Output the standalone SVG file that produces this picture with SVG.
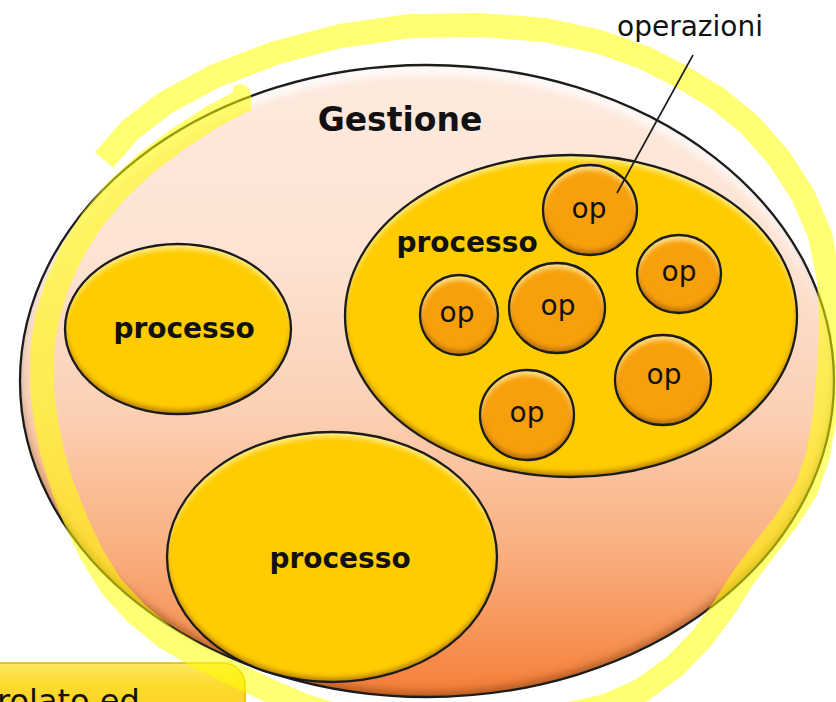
<svg xmlns="http://www.w3.org/2000/svg" width="836" height="702" viewBox="0 0 836 702">
  <defs>
    <style>
      .lbl-b { font-family: "DejaVu Sans", Verdana, sans-serif; font-weight: bold; fill: #111; text-anchor: middle; }
      .lbl { font-family: "DejaVu Sans", Verdana, sans-serif; fill: #111; text-anchor: middle; }
      .outline { fill: none; stroke: #1c1c1c; stroke-width: 2.3; }
      .proc { fill: #ffcc00; }
      .op { fill: #f8a00c; }
    </style>
    <linearGradient id="gBig" x1="0" y1="0" x2="0" y2="1">
      <stop offset="0" stop-color="#fdeade"/>
      <stop offset="0.3" stop-color="#fde3d3"/>
      <stop offset="0.55" stop-color="#fcd0b4"/>
      <stop offset="0.78" stop-color="#f9ad7c"/>
      <stop offset="1" stop-color="#f57e38"/>
    </linearGradient>
    <linearGradient id="gBox" x1="0" y1="0" x2="0" y2="1">
      <stop offset="0" stop-color="#fee862"/>
      <stop offset="0.3" stop-color="#fddb30"/>
      <stop offset="1" stop-color="#fbcc10"/>
    </linearGradient>
    <filter id="bevel" x="-5%" y="-5%" width="110%" height="110%" color-interpolation-filters="sRGB">
      <feGaussianBlur in="SourceAlpha" stdDeviation="2.5" result="blur"/>
      <feOffset in="blur" dy="5" result="down"/>
      <feComposite in="SourceAlpha" in2="down" operator="out" result="topRim"/>
      <feFlood flood-color="#fff6b0" flood-opacity="0.75"/>
      <feComposite in2="topRim" operator="in" result="hi"/>
      <feOffset in="blur" dy="-4" result="up"/>
      <feComposite in="SourceAlpha" in2="up" operator="out" result="botRim"/>
      <feFlood flood-color="#7a4200" flood-opacity="0.55"/>
      <feComposite in2="botRim" operator="in" result="sh"/>
      <feMerge><feMergeNode in="SourceGraphic"/><feMergeNode in="hi"/><feMergeNode in="sh"/></feMerge>
    </filter>
    <filter id="bevelBig" x="-5%" y="-5%" width="110%" height="110%" color-interpolation-filters="sRGB">
      <feGaussianBlur in="SourceAlpha" stdDeviation="4" result="blur"/>
      <feOffset in="blur" dy="9" result="down"/>
      <feComposite in="SourceAlpha" in2="down" operator="out" result="topRim"/>
      <feFlood flood-color="#ffffff" flood-opacity="0.9"/>
      <feComposite in2="topRim" operator="in" result="hi"/>
      <feOffset in="blur" dy="-5" result="up"/>
      <feComposite in="SourceAlpha" in2="up" operator="out" result="botRim"/>
      <feFlood flood-color="#6a3000" flood-opacity="0.5"/>
      <feComposite in2="botRim" operator="in" result="sh"/>
      <feMerge><feMergeNode in="SourceGraphic"/><feMergeNode in="hi"/><feMergeNode in="sh"/></feMerge>
    </filter>
  </defs>

  <rect width="836" height="702" fill="#ffffff"/>

  <g id="gestione">
    <ellipse cx="427" cy="381" rx="407" ry="316" fill="url(#gBig)" filter="url(#bevelBig)"/>
    <ellipse cx="427" cy="381" rx="407" ry="316" class="outline" stroke-width="2.6"/>
    <text x="400" y="131" class="lbl-b" font-size="33">Gestione</text>
  </g>

  <g id="processo-left">
    <ellipse cx="178" cy="329" rx="113" ry="85" class="proc" filter="url(#bevel)"/>
    <ellipse cx="178" cy="329" rx="113" ry="85" class="outline"/>
    <text x="184" y="338" class="lbl-b" font-size="28">processo</text>
  </g>

  <g id="processo-right">
    <ellipse cx="571" cy="316" rx="226" ry="161" class="proc" filter="url(#bevel)"/>
    <ellipse cx="571" cy="316" rx="226" ry="161" class="outline"/>
    <text x="467" y="252" class="lbl-b" font-size="28">processo</text>
  </g>

  <g id="processo-bottom">
    <ellipse cx="332" cy="557" rx="165" ry="125" class="proc" filter="url(#bevel)"/>
    <ellipse cx="332" cy="557" rx="165" ry="125" class="outline"/>
    <text x="340" y="568" class="lbl-b" font-size="28">processo</text>
  </g>

  <g id="op-1">
    <ellipse cx="590" cy="210" rx="47" ry="45" class="op" filter="url(#bevel)"/>
    <ellipse cx="590" cy="210" rx="47" ry="45" class="outline"/>
    <text x="589" y="218" class="lbl" font-size="28">op</text>
  </g>
  <g id="op-2">
    <ellipse cx="679" cy="274" rx="42" ry="39" class="op" filter="url(#bevel)"/>
    <ellipse cx="679" cy="274" rx="42" ry="39" class="outline"/>
    <text x="679" y="281" class="lbl" font-size="28">op</text>
  </g>
  <g id="op-3">
    <ellipse cx="459" cy="315" rx="39" ry="40" class="op" filter="url(#bevel)"/>
    <ellipse cx="459" cy="315" rx="39" ry="40" class="outline"/>
    <text x="457" y="322" class="lbl" font-size="28">op</text>
  </g>
  <g id="op-4">
    <ellipse cx="557" cy="308" rx="48" ry="45" class="op" filter="url(#bevel)"/>
    <ellipse cx="557" cy="308" rx="48" ry="45" class="outline"/>
    <text x="558" y="315" class="lbl" font-size="28">op</text>
  </g>
  <g id="op-5">
    <ellipse cx="663" cy="380" rx="48" ry="45" class="op" filter="url(#bevel)"/>
    <ellipse cx="663" cy="380" rx="48" ry="45" class="outline"/>
    <text x="664" y="384" class="lbl" font-size="28">op</text>
  </g>
  <g id="op-6">
    <ellipse cx="527" cy="415" rx="47" ry="45" class="op" filter="url(#bevel)"/>
    <ellipse cx="527" cy="415" rx="47" ry="45" class="outline"/>
    <text x="527" y="422" class="lbl" font-size="28">op</text>
  </g>

  <g id="note-box">
    <rect x="-20" y="663" width="265" height="70" rx="22" fill="url(#gBox)" stroke="#e0b800" stroke-width="1.5"/>
    <text x="-3" y="712" font-family="DejaVu Sans, Verdana, sans-serif" font-size="32" fill="#111">rolato ed</text>
  </g>

  <g id="highlight" opacity="0.55">
    <path d="M244,100 L212,117 L178,139 L146,163 L117,190 L92,220 L72,252 L57,285 L47,318 L42,352 L42,387 L46,422 L53,456 L63,488 L76,521 L92,555 L112,587 L137,614 L165,637 L197,656 L232,673 L268,690 L305,706 L345,718 L420,724 L500,722 L560,716 L606,706 L642,690 L675,666 L702,638 L724,608 L743,578 L764,550 L787,520 L806,490 L818,455 L825,415 L829,370 L831,325 L829,280 L820,235 L803,195 L779,158 L750,125 L717,98 L682,77 L645,58 L600,42 L545,30 L480,25 L410,26 L340,36 L275,53 L215,76 L165,103 L130,130 L104,160" fill="none" stroke="#ffff00" stroke-width="24" stroke-linejoin="round" stroke-linecap="butt"/>
    <path d="M233,86 L240,84 Q251,86 251,96 L251,112 L233,112 Z" fill="#ffff00"/>
  </g>

  <g id="connectors">
    <line x1="693" y1="55" x2="617" y2="193" stroke="#1a1a1a" stroke-width="1.6"/>
  </g>

  <g id="label-operazioni">
    <text x="690" y="36" class="lbl" font-size="28">operazioni</text>
  </g>
</svg>
